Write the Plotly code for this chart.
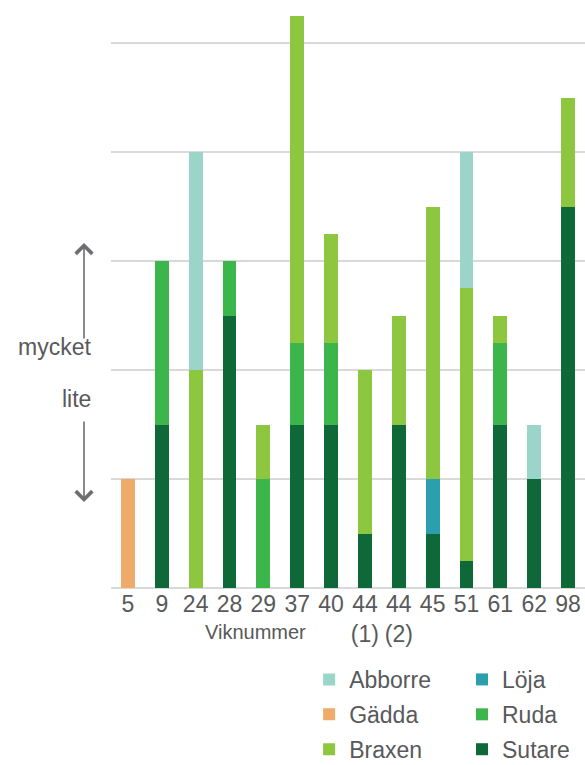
import plotly.graph_objects as go

# Bay numbers (x categories) and tick labels
categories = ["5", "9", "24", "28", "29", "37", "40", "44 (1)", "44 (2)", "45", "51", "61", "62", "98"]
tick_labels = ["5", "9", "24", "28", "29", "37", "40", "44<br>(1)", "44<br>(2)", "45", "51", "61", "62", "98"]

# Relative abundance per species (stacked bottom to top)
sutare = [0, 1.5, 0, 2.5, 0, 1.5, 1.5, 0.5, 1.5, 0.5, 0.25, 1.5, 1, 3.5]
loja = [0, 0, 0, 0, 0, 0, 0, 0, 0, 0.5, 0, 0, 0, 0]
ruda = [0, 1.5, 0, 0.5, 1, 0.75, 0.75, 0, 0, 0, 0, 0.75, 0, 0]
braxen = [0, 0, 2, 0, 0.5, 3, 1, 1.5, 1, 2.5, 2.5, 0.25, 0, 1]
abborre = [0, 0, 2, 0, 0, 0, 0, 0, 0, 0, 1.25, 0, 0.5, 0]
gadda = [1, 0, 0, 0, 0, 0, 0, 0, 0, 0, 0, 0, 0, 0]

# (name, values, colour, legend, rank)
series = [
    ("Sutare", sutare, "#0e6838", "legend2", 3),
    ("Löja", loja, "#2b9fad", "legend2", 1),
    ("Ruda", ruda, "#3cb54a", "legend2", 2),
    ("Braxen", braxen, "#8dc63f", "legend", 3),
    ("Abborre", abborre, "#9bd4c9", "legend", 1),
    ("Gädda", gadda, "#f0ab6a", "legend", 2),
]

FONT = "Liberation Sans, Arial, sans-serif"
TXT = "#58595b"

fig = go.Figure()
for name, vals, col, leg, rank in series:
    fig.add_trace(go.Bar(
        x=categories, y=vals, name=name, marker=dict(color=col, line=dict(width=0)),
        legend=leg, legendrank=rank, legendgroup=name,
    ))

legend_common = dict(
    orientation="v", yanchor="top", xanchor="left", tracegroupgap=2,
    font=dict(family=FONT, size=23, color=TXT), bgcolor="rgba(0,0,0,0)",
    itemclick=False, itemdoubleclick=False,
)

fig.update_layout(
    width=585, height=765,
    margin=dict(l=111, r=0, t=0, b=177, autoexpand=False),
    barmode="stack", bargap=0.587,
    plot_bgcolor="white", paper_bgcolor="white",
    showlegend=True,
    legend=dict(x=0.418, y=-0.119, **legend_common),
    legend2=dict(x=0.7405, y=-0.119, **legend_common),
    xaxis=dict(
        tickmode="array", tickvals=categories, ticktext=tick_labels,
        tickfont=dict(family=FONT, size=23, color=TXT),
        showgrid=False, showline=False, ticks="", ticklen=0, automargin=False,
    ),
    yaxis=dict(
        range=[0, 588 / 109], dtick=1, tick0=0, showticklabels=False,
        showgrid=True, gridcolor="#d9d9d9", gridwidth=2,
        zeroline=True, zerolinecolor="#d9d9d9", zerolinewidth=2,
        showline=False, ticks="", automargin=False,
    ),
    font=dict(family=FONT, color=TXT),
)

# Axis caption under the bay numbers
fig.add_annotation(
    text="Viknummer", xref="paper", yref="paper", x=(255 - 111) / 474, y=-44 / 588,
    xanchor="center", yanchor="middle", showarrow=False,
    font=dict(family=FONT, size=20, color=TXT),
)

# Scale hints on the left: "mycket" (up) and "lite" (down)
arrow_x = (84 - 111) / 474
fig.add_annotation(
    text="", xref="paper", yref="y", x=arrow_x, y=(588 - 243) / 109,
    axref="pixel", ayref="y", ax=0, ay=(588 - 340) / 109,
    showarrow=True, arrowhead=4, arrowsize=2, arrowwidth=1.6, arrowcolor="#6d6e71",
)
fig.add_annotation(
    text="", xref="paper", yref="y", x=arrow_x, y=(588 - 502) / 109,
    axref="pixel", ayref="y", ax=0, ay=(588 - 420) / 109,
    showarrow=True, arrowhead=4, arrowsize=2, arrowwidth=1.6, arrowcolor="#6d6e71",
)
fig.add_annotation(
    text="mycket", xref="paper", yref="y", x=(93 - 111) / 474, y=(588 - 347) / 109,
    xanchor="right", yanchor="middle", showarrow=False,
    font=dict(family=FONT, size=23, color=TXT),
)
fig.add_annotation(
    text="lite", xref="paper", yref="y", x=(93 - 111) / 474, y=(588 - 399) / 109,
    xanchor="right", yanchor="middle", showarrow=False,
    font=dict(family=FONT, size=23, color=TXT),
)

fig.write_html("out.html")
